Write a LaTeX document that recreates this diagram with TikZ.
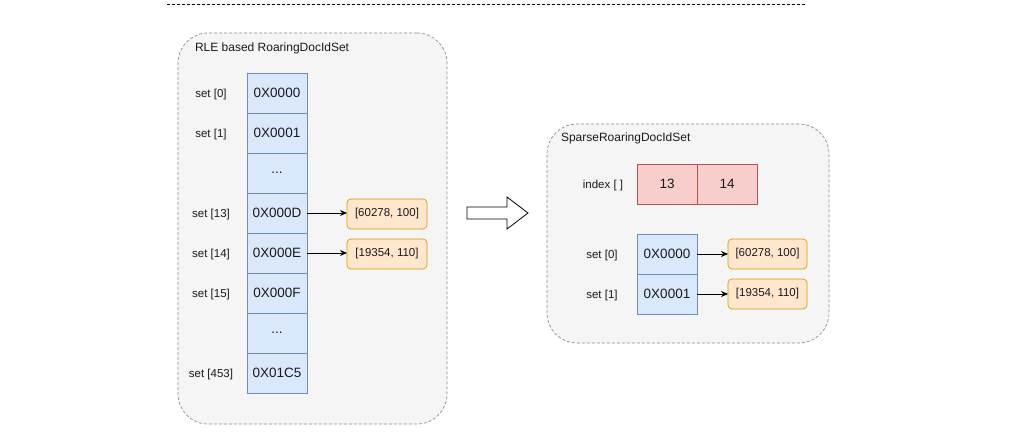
\documentclass[tikz,border=0pt]{standalone}
\usepackage{fontspec}
\setmainfont{Liberation Sans}
\usetikzlibrary{arrows.meta}
\definecolor{contfill}{HTML}{F5F5F5}
\definecolor{contdraw}{HTML}{8C8C8C}
\definecolor{bluefill}{HTML}{DAE8FC}
\definecolor{bluedraw}{HTML}{6C8EBF}
\definecolor{orfill}{HTML}{FFE6CC}
\definecolor{ordraw}{HTML}{D79B00}
\definecolor{redfill}{HTML}{F8CECC}
\definecolor{reddraw}{HTML}{B85450}
\definecolor{txt}{HTML}{1A1A1A}
\tikzset{
  every node/.style={outer sep=0pt},
  container/.style={draw=contdraw, fill=contfill, dash pattern=on 3pt off 2pt, line width=0.7pt, rounded corners=30pt},
  cell/.style={draw=bluedraw, fill=bluefill, line width=0.7pt, minimum width=60pt, minimum height=40pt, inner sep=0pt, font=\fontsize{13.5}{15}\selectfont, text=txt},
  idx/.style={draw=reddraw, fill=redfill, line width=0.7pt, minimum width=60pt, minimum height=40pt, inner sep=0pt, font=\fontsize{13.5}{15}\selectfont, text=txt},
  pair/.style={draw=ordraw, fill=orfill, line width=0.7pt, rounded corners=4pt, minimum width=80pt, minimum height=30pt, inner sep=0pt, font=\fontsize{11.5}{13}\selectfont, text=txt},
  lbl/.style={font=\fontsize{11.5}{13}\selectfont, text=txt, inner sep=0pt},
  title/.style={font=\fontsize{12}{14}\selectfont, text=txt, inner sep=0pt, anchor=west},
  link/.style={-{Stealth[length=7pt,width=6pt]}, line width=0.8pt, black},
}
\begin{document}
\begin{tikzpicture}[x=1pt,y=-1pt]
\useasboundingbox (0,0) rectangle (1022,435);
% top dashed line
\coordinate (tl) at (167,4);
\coordinate (tr) at (806,4);
\draw[black, line width=0.7pt, dash pattern=on 3pt off 2pt] (tl) -- (tr);

% left container
\node[container, minimum width=269pt, minimum height=391pt, anchor=north west] (left) at (178,33) {};
\node[title] (lefttitle) at (195,48) {RLE based RoaringDocIdSet};

% column
\node[cell, anchor=north west] (c0) at (247,73) {0X0000};
\node[cell, anchor=north] (c1) at (c0.south) {0X0001};
\node[cell, anchor=north] (c2) at (c1.south) {...};
\node[cell, anchor=north] (c13) at (c2.south) {0X000D};
\node[cell, anchor=north] (c14) at (c13.south) {0X000E};
\node[cell, anchor=north] (c15) at (c14.south) {0X000F};
\node[cell, anchor=north] (c16) at (c15.south) {...};
\node[cell, anchor=north] (c453) at (c16.south) {0X01C5};

\node[lbl] (l0) at (211,95) {set [0]};
\node[lbl] (l1) at (211,135) {set [1]};
\node[lbl] (l13) at (211,215) {set [13]};
\node[lbl] (l14) at (211,255) {set [14]};
\node[lbl] (l15) at (211,295) {set [15]};
\node[lbl] (l453) at (211,375) {set [453]};

\node[pair] (p1) at (387,214) {[60278, 100]};
\node[pair] (p2) at (387,254) {[19354, 110]};
\draw[link] (c13.east) -- (p1.west |- c13.east);
\draw[link] (c14.east) -- (p2.west |- c14.east);

% hollow arrow
\coordinate (bigtail) at (467,213);
\coordinate (bigtip) at (528,213);
\draw[black, fill=white, line width=0.8pt, line join=miter]
  ([yshift=-6pt]bigtail) -- ++(40,0) -- ++(0,10) -- (bigtip) -- ++(-21,-16) -- ++(0,10) -- ++(-40,0) -- cycle;

% right container
\node[container, minimum width=282pt, minimum height=219pt, anchor=north west] (right) at (547,124) {};
\node[title] (righttitle) at (561,138) {SparseRoaringDocIdSet};

\node[idx, anchor=north west] (i0) at (637,164) {13};
\node[idx, anchor=west] (i1) at (i0.east) {14};
\node[lbl] (il) at (603,186) {index [ ]};

\node[cell, anchor=north west] (s0) at (637,234) {0X0000};
\node[cell, anchor=north] (s1) at (s0.south) {0X0001};
\node[lbl] (sl0) at (602,256) {set [0]};
\node[lbl] (sl1) at (602,296) {set [1]};

\node[pair, minimum width=79pt] (q1) at (767.5,254) {[60278, 100]};
\node[pair, minimum width=79pt] (q2) at (767.5,294) {[19354, 110]};
\draw[link] (s0.east) -- (q1.west |- s0.east);
\draw[link] (s1.east) -- (q2.west |- s1.east);
\end{tikzpicture}
\end{document}
